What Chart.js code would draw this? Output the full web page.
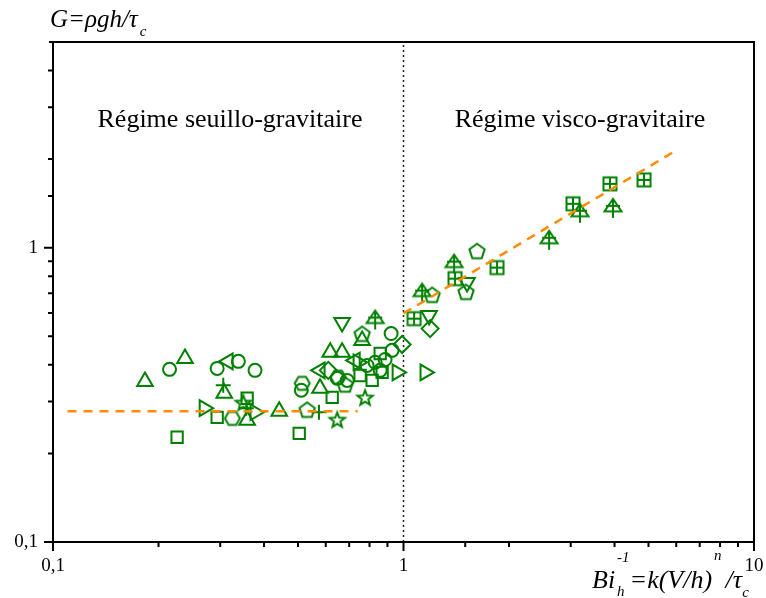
<!DOCTYPE html>
<html>
<head>
<meta charset="utf-8">
<script src="https://cdn.jsdelivr.net/npm/chart.js@4.4.1/dist/chart.umd.min.js"></script>
<style>
  body { margin: 0; background: #fff; }
  #wrap { width: 766px; height: 598px; }
</style>
</head>
<body>
<div id="wrap"><canvas id="chart"></canvas></div>
<script>
// G against Bi_h^-1, one x/y pair of arrays per marker family
const triUpX = [0.183, 0.238, 0.308, 0.358, 0.442, 0.578, 0.618, 0.668, 0.762];
const triUpY = [0.351, 0.420, 0.320, 0.259, 0.278, 0.333, 0.441, 0.441, 0.484];
const circleX = [0.215, 0.294, 0.338, 0.377, 0.511, 0.647, 0.691, 0.787, 0.830, 0.858, 0.886, 0.928, 0.922];
const circleY = [0.386, 0.389, 0.411, 0.383, 0.328, 0.360, 0.354, 0.398, 0.408, 0.383, 0.417, 0.448, 0.511];
const squareX = [0.226, 0.294, 0.358, 0.504, 0.626, 0.752, 0.814, 0.858, 0.869];
const squareY = [0.227, 0.265, 0.308, 0.234, 0.310, 0.368, 0.354, 0.437, 0.377];
const triLeftX = [0.316, 0.578, 0.728];
const triLeftY = [0.411, 0.383, 0.414];
const triRightX = [0.270, 0.377, 0.742, 0.959, 1.152];
const triRightY = [0.285, 0.276, 0.408, 0.377, 0.377];
const triDownX = [0.668, 1.183, 1.518];
const triDownY = [0.557, 0.588, 0.761];
const diamondX = [0.610, 0.991, 1.191];
const diamondY = [0.383, 0.469, 0.531];
const pentaX = [0.531, 0.762, 1.207, 1.508, 1.621, 0.682];
const pentaY = [0.280, 0.507, 0.688, 0.704, 0.969, 0.341];
const hexaX = [0.325, 0.514, 0.651];
const hexaY = [0.263, 0.346, 0.363];
const starX = [0.349, 0.647, 0.777];
const starY = [0.296, 0.259, 0.308];
const plusX = [0.306, 0.574, 0.356];
const plusY = [0.341, 0.276, 0.285];
const treeX = [0.830, 1.130, 1.394, 2.602, 3.188, 3.960];
const treeY = [0.570, 0.704, 0.883, 1.064, 1.314, 1.366];
const gridSqX = [1.072, 1.403, 1.849, 3.044, 3.882, 4.855];
const gridSqY = [0.574, 0.785, 0.856, 1.410, 1.648, 1.700];

// fitted laws: plateau below Bi^-1 = 1, power law above
const fitLowX = [0.11, 0.74];
const fitLowY = [0.278, 0.278];
const fitHighX = [1, 6.03];
const fitHighY = [0.598, 2.15];
// regime boundary
const limitX = [1, 1];
const limitY = [0.1, 5];

const GREEN = '#008000';
const ORANGE = '#ff8c00';
const SERIF = '"Liberation Serif", "Times New Roman", serif';

function pts(xs, ys) { return xs.map((x, i) => ({ x: x, y: ys[i] })); }

function glyph(draw) {
  const c = document.createElement('canvas');
  c.width = 24; c.height = 24;
  const g = c.getContext('2d');
  g.translate(12, 12);
  g.strokeStyle = GREEN;
  g.fillStyle = GREEN;
  g.lineWidth = 2;
  draw(g);
  return c;
}

function polygon(g, n, r, start) {
  g.beginPath();
  for (let i = 0; i < n; i++) {
    const a = start + i * 2 * Math.PI / n;
    g.lineTo(r * Math.cos(a), r * Math.sin(a));
  }
  g.closePath();
  g.stroke();
}

const pentagonImg = glyph(g => polygon(g, 5, 8, -Math.PI / 2));
const hexagonImg = glyph(g => polygon(g, 6, 7.5, 0));
const starImg = glyph(g => {
  g.beginPath();
  for (let i = 0; i < 10; i++) {
    const r = i % 2 ? 3.4 : 8;
    const a = -Math.PI / 2 + i * Math.PI / 5;
    g.lineTo(r * Math.cos(a), r * Math.sin(a));
  }
  g.closePath();
  g.stroke();
});
const treeImg = glyph(g => {
  g.beginPath();
  g.moveTo(0, -9); g.lineTo(-8.5, 3.5); g.lineTo(8.5, 3.5); g.closePath();
  g.moveTo(0, -9); g.lineTo(0, 10);
  g.moveTo(-7, -2); g.lineTo(7, -2);
  g.stroke();
});
const gridSqImg = glyph(g => {
  g.strokeRect(-6.5, -6.5, 13, 13);
  g.beginPath();
  g.moveTo(0, -6.5); g.lineTo(0, 6.5);
  g.moveTo(-6.5, 0); g.lineTo(6.5, 0);
  g.stroke();
});

function markers(xs, ys, style, radius, rotation) {
  return {
    data: pts(xs, ys),
    pointStyle: style,
    pointRadius: radius,
    pointRotation: rotation || 0,
    borderColor: GREEN,
    backgroundColor: 'rgba(0,0,0,0)',
    pointBorderWidth: 2,
    showLine: false,
    order: 1
  };
}

function fitLine(xs, ys) {
  return {
    data: pts(xs, ys),
    showLine: true,
    pointRadius: 0,
    borderColor: ORANGE,
    borderWidth: 2.5,
    borderDash: [9, 7],
    order: 0
  };
}

function isDecade(v) {
  const l = Math.log10(v);
  return Math.abs(l - Math.round(l)) < 1e-6;
}
function tickText(v) {
  if (!isDecade(v)) return '';
  return String(+v.toPrecision(3)).replace('.', ',');
}

function richText(ctx, x, y, parts) {
  let cx = x;
  parts.forEach(p => {
    ctx.font = p.f;
    cx += p.dx || 0;
    ctx.fillText(p.t, cx, y + (p.dy || 0));
    if (!p.stay) cx += ctx.measureText(p.t).width;
  });
}

// frame, tick marks, axis titles and region captions
const decor = {
  id: 'decor',
  afterDraw(chart) {
    const { ctx, chartArea: a, scales } = chart;
    ctx.save();
    ctx.strokeStyle = '#000';
    ctx.lineWidth = 2;
    ctx.beginPath();
    ctx.moveTo(a.left - 4, a.top);
    ctx.lineTo(a.right, a.top);
    ctx.lineTo(a.right, a.bottom);
    ctx.lineTo(a.left, a.bottom);
    ctx.lineTo(a.left, a.top);
    scales.x.ticks.forEach(t => {
      const p = scales.x.getPixelForValue(t.value);
      const len = isDecade(t.value) ? 9 : 5;
      ctx.moveTo(p, a.bottom);
      ctx.lineTo(p, a.bottom + len);
    });
    scales.y.ticks.forEach(t => {
      const p = scales.y.getPixelForValue(t.value);
      if (p < a.top + 1) return;
      const len = isDecade(t.value) ? 9 : 5;
      ctx.moveTo(a.left, p);
      ctx.lineTo(a.left - len, p);
    });
    ctx.stroke();

    ctx.fillStyle = '#000';
    ctx.textBaseline = 'alphabetic';
    ctx.textAlign = 'center';
    ctx.font = '26px ' + SERIF;
    ctx.fillText('Régime seuillo-gravitaire', 230, 127);
    ctx.fillText('Régime visco-gravitaire', 580, 127);

    ctx.textAlign = 'left';
    richText(ctx, 50, 27, [
      { t: 'G=ρgh/τ', f: 'italic 25px ' + SERIF },
      { t: 'c', f: 'italic 15px ' + SERIF, dy: 9, dx: 2 }
    ]);
    const bigX = 'italic 26px ' + SERIF;
    const smallX = 'italic 15px ' + SERIF;
    richText(ctx, 592, 588, [
      { t: 'Bi', f: bigX },
      { t: 'h', f: smallX, dy: 8, dx: 2, stay: true },
      { t: '-1', f: smallX, dy: -26 },
      { t: '=k(V/h)', f: bigX },
      { t: 'n', f: smallX, dy: -28, dx: 2 },
      { t: '/τ', f: bigX, dx: 4 },
      { t: 'c', f: smallX, dy: 9 }
    ]);
    ctx.restore();
  }
};

const tickFont = { family: SERIF, size: 19 };

new Chart(document.getElementById('chart'), {
  type: 'scatter',
  data: {
    datasets: [
      fitLine(fitLowX, fitLowY),
      fitLine(fitHighX, fitHighY),
      {
        data: pts(limitX, limitY),
        showLine: true,
        pointRadius: 0,
        borderColor: '#222',
        borderWidth: 1.5,
        borderDash: [2, 3],
        order: 2
      },
      markers(triUpX, triUpY, 'triangle', 9, 0),
      markers(circleX, circleY, 'circle', 6.5),
      markers(squareX, squareY, 'rect', 8),
      markers(triLeftX, triLeftY, 'triangle', 9, 270),
      markers(triRightX, triRightY, 'triangle', 9, 90),
      markers(triDownX, triDownY, 'triangle', 9, 180),
      markers(diamondX, diamondY, 'rectRot', 8.5),
      markers(pentaX, pentaY, pentagonImg, 8),
      markers(hexaX, hexaY, hexagonImg, 7.5),
      markers(starX, starY, starImg, 8),
      markers(plusX, plusY, 'cross', 7.5),
      markers(treeX, treeY, treeImg, 9),
      markers(gridSqX, gridSqY, gridSqImg, 7)
    ]
  },
  options: {
    responsive: true,
    maintainAspectRatio: false,
    animation: false,
    layout: { padding: { top: 42, right: 12, left: 0, bottom: 0 } },
    plugins: { legend: { display: false }, tooltip: { enabled: false } },
    scales: {
      x: {
        type: 'logarithmic',
        min: 0.1,
        max: 10,
        grid: { display: false, drawTicks: false },
        border: { display: false },
        ticks: { autoSkip: false, maxRotation: 0, padding: 13, color: '#000', font: tickFont, callback: tickText },
        afterFit: s => { s.height = 56; s.paddingLeft = 0; s.paddingRight = 0; }
      },
      y: {
        type: 'logarithmic',
        min: 0.1,
        max: 5,
        grid: { display: false, drawTicks: false },
        border: { display: false },
        ticks: { autoSkip: false, padding: 15, color: '#000', font: tickFont, callback: tickText },
        afterFit: s => { s.width = 53; s.paddingTop = 0; s.paddingBottom = 0; }
      }
    }
  },
  plugins: [decor]
});
</script>
</body>
</html>
